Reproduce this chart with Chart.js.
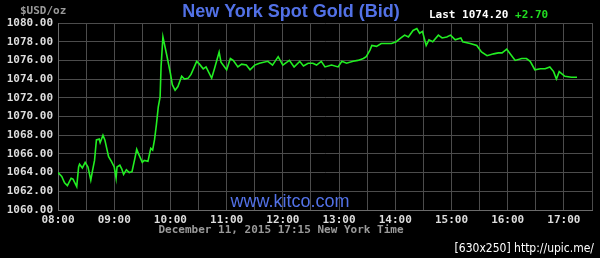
<!DOCTYPE html>
<html>
<head>
<meta charset="utf-8">
<script src="https://cdn.jsdelivr.net/npm/chart.js@4"></script>
<style>
  html, body { margin: 0; padding: 0; background: #000; }
  #wrap { width: 600px; height: 258px; }
</style>
</head>
<body>
<div id="wrap"><canvas id="myChart" width="600" height="258"></canvas></div>
<script>
// New York spot gold bid, Dec 11 2015
const times = [
  '08:00', '08:04', '08:07', '08:10', '08:14', '08:16', '08:20', '08:22', '08:23', '08:26',
  '08:29', '08:32', '08:35', '08:37', '08:39', '08:41', '08:44', '08:45', '08:48', '08:50',
  '08:54', '08:57', '09:00', '09:02', '09:03', '09:06', '09:08', '09:10', '09:13', '09:16',
  '09:19', '09:22', '09:24', '09:26', '09:30', '09:32', '09:36', '09:39', '09:41', '09:43',
  '09:45', '09:47', '09:49', '09:50', '09:52',
  '09:56', '10:00', '10:02', '10:05', '10:08', '10:12', '10:15', '10:19', '10:22', '10:28',
  '10:31', '10:35', '10:38', '10:44', '10:47', '10:52', '10:54', '11:00', '11:04', '11:07',
  '11:12', '11:16', '11:21', '11:25', '11:30', '11:35', '11:44', '11:49', '11:55', '12:00',
  '12:07', '12:12', '12:18', '12:22', '12:27', '12:32', '12:36', '12:41', '12:45', '12:52',
  '12:59', '13:03', '13:08', '13:15', '13:20', '13:26', '13:29', '13:33', '13:35', '13:40',
  '13:45', '13:51', '13:56', '14:01', '14:06', '14:10', '14:14', '14:19', '14:23', '14:26',
  '14:29', '14:33', '14:36', '14:40', '14:46', '14:50', '14:55', '14:59', '15:04', '15:10',
  '15:12', '15:20', '15:27', '15:32', '15:38', '15:45', '15:50', '15:54', '15:59', '16:02',
  '16:08', '16:15', '16:20', '16:24', '16:29', '16:35', '16:40', '16:45', '16:49', '16:52',
  '16:55', '17:01', '17:08', '17:14'
]
const prices = [
  1064.0, 1063.6, 1062.9, 1062.6, 1063.4, 1063.3, 1062.5, 1064.6, 1064.9, 1064.5,
  1065.1, 1064.6, 1063.2, 1064.3, 1065.3, 1067.5, 1067.6, 1067.2, 1068.0, 1067.5,
  1065.7, 1065.2, 1064.6, 1063.4, 1064.6, 1064.8, 1064.4, 1063.8, 1064.3, 1064.0,
  1064.1, 1065.5, 1066.5, 1066.0, 1065.1, 1065.3, 1065.2, 1066.6, 1066.4, 1067.5,
  1069.1, 1071.0, 1072.1, 1075.3, 1078.5,
  1076.6, 1074.6, 1073.4, 1072.8, 1073.2, 1074.3, 1074.0, 1074.1, 1074.5, 1075.9,
  1075.6, 1075.1, 1075.3, 1074.1, 1075.1, 1076.9, 1075.8, 1075.0, 1076.2, 1076.0,
  1075.3, 1075.6, 1075.5, 1075.0, 1075.5, 1075.7, 1075.9, 1075.5, 1076.4, 1075.5,
  1076.0, 1075.3, 1075.9, 1075.4, 1075.7, 1075.7, 1075.5, 1075.9, 1075.3, 1075.5,
  1075.3, 1075.9, 1075.7, 1075.9, 1076.0, 1076.2, 1076.4, 1077.1, 1077.6, 1077.5,
  1077.8, 1077.8, 1077.8, 1078.0, 1078.4, 1078.7, 1078.5, 1079.2, 1079.4, 1078.9,
  1079.1, 1077.6, 1078.2, 1078.0, 1078.7, 1078.4, 1078.5, 1078.7, 1078.2, 1078.4,
  1078.0, 1077.8, 1077.6, 1076.9, 1076.5, 1076.7, 1076.8, 1076.8, 1077.2, 1076.8,
  1076.0, 1076.2, 1076.2, 1075.9, 1075.0, 1075.1, 1075.1, 1075.3, 1074.8, 1074.0,
  1074.8, 1074.3, 1074.2, 1074.2
]
const hourLabels = ['08:00', '09:00', '10:00', '11:00', '12:00', '13:00', '14:00', '15:00', '16:00', '17:00']
const lastPrice = '1074.20'
const change = '+2.70'

const mono = '"DejaVu Sans Mono", monospace'

// minutes since 08:00
function toMinutes(t) {
  const [h, m] = t.split(':').map(Number)
  return (h - 8) * 60 + m
}

const points = times.map((t, i) => ({ x: toMinutes(t), y: prices[i] }))

const kitcoText = {
  id: 'kitcoText',
  afterDraw(chart) {
    const c = chart.ctx
    const area = chart.chartArea
    c.save()
    c.textBaseline = 'middle'

    c.fillStyle = '#5271e6'
    c.font = 'bold 18px "Liberation Sans", Arial, sans-serif'
    c.textAlign = 'center'
    c.fillText('New York Spot Gold (Bid)', 291, 12)

    c.font = '18px "Liberation Sans", Arial, sans-serif'
    c.fillText('www.kitco.com', 290, 202)

    c.font = 'bold 11px ' + mono
    c.textAlign = 'left'
    c.fillStyle = '#9a9a9a'
    c.fillText('$USD/oz', 20, 11)

    c.fillStyle = '#ffffff'
    const lastTxt = 'Last ' + lastPrice + ' '
    c.fillText(lastTxt, 429, 15)
    c.fillStyle = '#22dd22'
    c.fillText(change, 429 + c.measureText(lastTxt).width, 15)

    c.fillStyle = '#9a9a9a'
    c.textAlign = 'center'
    c.fillText('December 11, 2015 17:15 New York Time', (area.left + area.right) / 2 - 44, 230)

    c.fillStyle = '#ffffff'
    c.font = '12px "DejaVu Sans Condensed", sans-serif'
    c.textAlign = 'right'
    c.fillText('[630x250] http://upic.me/', 594, 249)
    c.restore()
  }
}

const ctx = document.getElementById('myChart')
const myChart = new Chart(ctx, {
  type: 'line',
  data: {
    datasets: [{
      label: 'Spot Gold',
      data: points,
      borderColor: '#22ee22',
      borderWidth: 1.6,
      pointRadius: 0,
      tension: 0,
      fill: false
    }]
  },
  options: {
    responsive: false,
    animation: false,
    layout: { padding: { top: 23, right: 8, left: 0, bottom: 0 } },
    plugins: {
      legend: { display: false },
      tooltip: { enabled: false }
    },
    scales: {
      x: {
        type: 'linear',
        min: 0,
        max: 570,
        afterFit: s => { s.height = 48 },
        afterBuildTicks: s => {
          s.ticks = []
          for (let v = 0; v <= 570; v += 30) s.ticks.push({ value: v })
        },
        grid: { color: '#4c4c4c', drawTicks: false, lineWidth: 1 },
        border: { color: '#6a6a6a' },
        ticks: {
          autoSkip: false,
          maxRotation: 0,
          padding: 4,
          color: '#dddddd',
          font: { family: mono, size: 11, weight: 'bold' },
          callback: v => (v % 60 === 0 ? hourLabels[v / 60] : '')
        }
      },
      y: {
        min: 1060,
        max: 1080,
        afterFit: s => { s.width = 58 },
        grid: { color: '#4c4c4c', drawTicks: false, lineWidth: 1 },
        border: { color: '#6a6a6a' },
        ticks: {
          stepSize: 2,
          padding: 5,
          color: '#dddddd',
          font: { family: mono, size: 11, weight: 'bold' },
          callback: v => v.toFixed(2)
        }
      }
    }
  },
  plugins: [kitcoText]
})
</script>
</body>
</html>
